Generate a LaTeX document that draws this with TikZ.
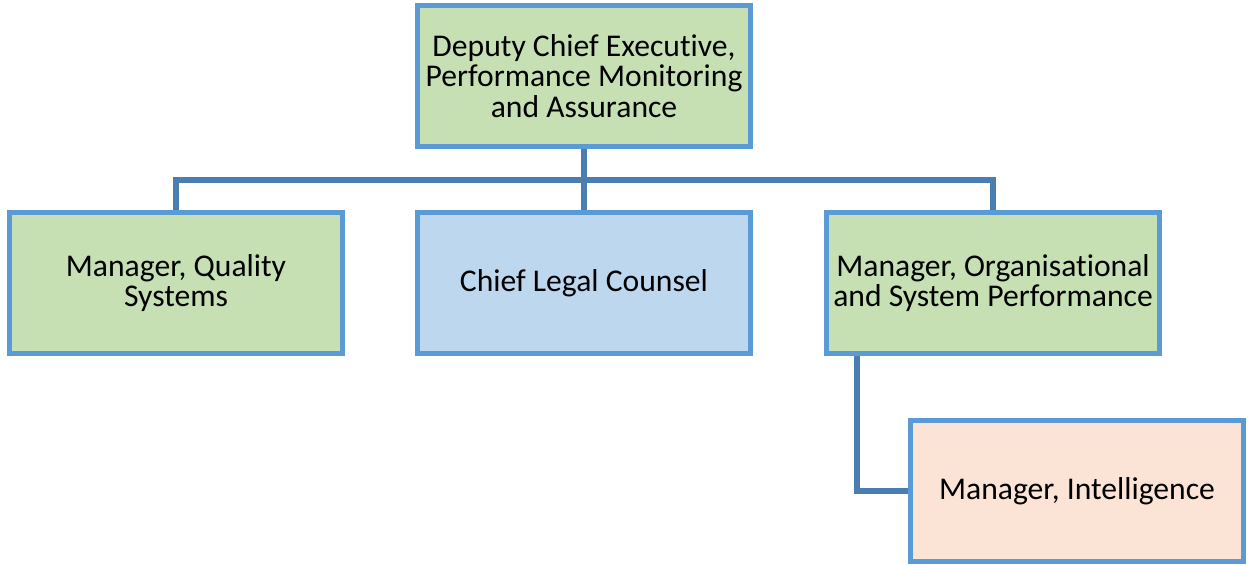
\documentclass[tikz,border=0pt]{standalone}
\usepackage{fontspec}
\setmainfont{Carlito}[Ligatures=NoCommon]
\definecolor{boxline}{HTML}{5B9BD5}
\definecolor{linkline}{HTML}{4A7EB0}
\definecolor{greenfill}{HTML}{C6E0B4}
\definecolor{bluefill}{HTML}{BDD7EE}
\definecolor{peachfill}{HTML}{FBE3D5}
\tikzset{
  orgbox/.style={draw=boxline, line width=2.8pt, minimum width=6.66cm,
    minimum height=2.82cm, align=center, inner sep=2pt,
    font=\fontsize{18}{17.2}\selectfont},
  link/.style={draw=linkline, line width=3pt}
}
\begin{document}
\begin{tikzpicture}
      \useasboundingbox (0,0) rectangle (25,-11.32);
      \draw
        (11.68,-1.52) node[orgbox, fill=greenfill] (dce){Deputy Chief Executive,\\Performance Monitoring\\and Assurance}
        (3.52,-5.66) node[orgbox, fill=greenfill] (mqs){Manager, Quality\\Systems}
        (11.68,-5.66) node[orgbox, fill=bluefill] (clc){Chief Legal Counsel}
        (19.86,-5.66) node[orgbox, fill=greenfill] (mosp){Manager, Organisational\\and System Performance}
        (21.54,-9.82) node[orgbox, fill=peachfill] (mi){Manager, Intelligence};
      \coordinate (bus) at (11.68,-3.6);
      \begin{scope}[link]
        \draw (dce.south) to (bus);
        \draw (mqs.north) |- (bus) -| (mosp.north);
        \draw (bus) to (clc.north);
        \draw ([xshift=-2.72cm]mosp.south) |- (mi.west);
      \end{scope}
    \end{tikzpicture}
\end{document}
